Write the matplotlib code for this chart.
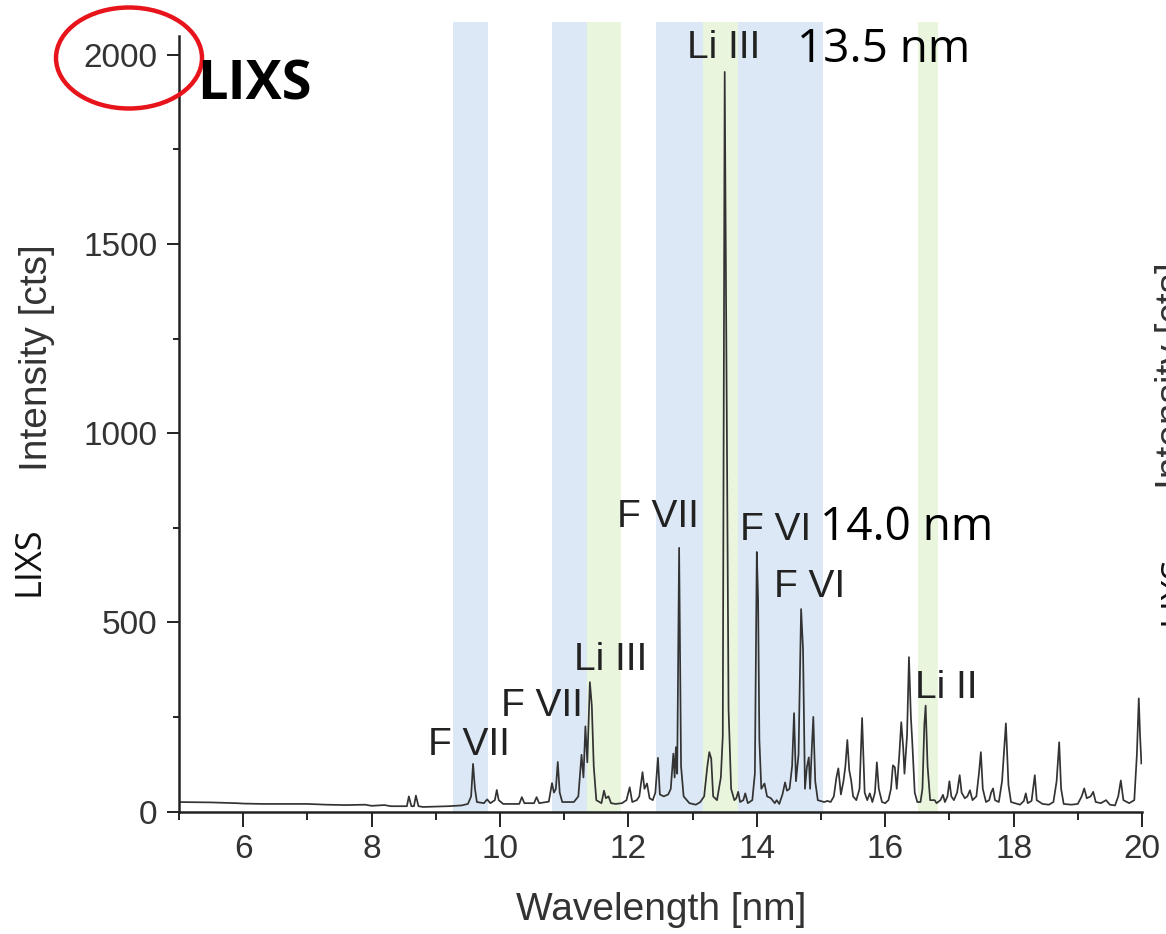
import matplotlib
matplotlib.use("Agg")
import matplotlib.pyplot as plt
from matplotlib.patches import Ellipse
from matplotlib.ticker import MultipleLocator

# ---------------- data ----------------
wavelength = [5.00, 5.50, 5.90, 6.00, 6.30, 7.00, 7.30, 7.60, 7.90, 8.00, 8.20, 8.30, 8.55,
              8.58, 8.62, 8.66, 8.69, 8.73, 8.80, 9.00, 9.20, 9.40, 9.50, 9.55, 9.58, 9.61, 9.64,
              9.75, 9.80, 9.85, 9.92, 9.95, 9.98, 10.05, 10.30, 10.34, 10.38, 10.53, 10.57, 10.61,
              10.76, 10.81, 10.84, 10.87, 10.90, 10.93, 10.97, 11.15, 11.22, 11.27, 11.30, 11.33,
              11.36, 11.40, 11.43, 11.46, 11.50, 11.58, 11.62, 11.65, 11.69, 11.73, 11.80, 11.90,
              11.97, 12.02, 12.06, 12.13, 12.17, 12.22, 12.25, 12.29, 12.33, 12.38, 12.42, 12.46,
              12.49, 12.55, 12.62, 12.66, 12.70, 12.72, 12.74, 12.76, 12.79, 12.82, 12.86, 12.95,
              13.05, 13.12, 13.18, 13.23, 13.26, 13.29, 13.32, 13.38, 13.44, 13.47, 13.50, 13.53,
              13.56, 13.60, 13.65, 13.68, 13.71, 13.74, 13.79, 13.82, 13.86, 13.93, 13.97, 14.00,
              14.02, 14.04, 14.07, 14.12, 14.16, 14.22, 14.28, 14.31, 14.35, 14.40, 14.44, 14.47,
              14.51, 14.55, 14.58, 14.61, 14.65, 14.69, 14.72, 14.75, 14.78, 14.81, 14.83, 14.85,
              14.88, 14.91, 14.95, 15.05, 15.10, 15.15, 15.20, 15.24, 15.27, 15.31, 15.35, 15.38,
              15.41, 15.44, 15.47, 15.50, 15.55, 15.60, 15.64, 15.68, 15.72, 15.76, 15.80, 15.84,
              15.87, 15.90, 15.95, 16.00, 16.05, 16.09, 16.12, 16.15, 16.18, 16.22, 16.25, 16.28,
              16.30, 16.34, 16.37, 16.40, 16.42, 16.46, 16.50, 16.55, 16.58, 16.61, 16.63, 16.66,
              16.70, 16.77, 16.80, 16.86, 16.90, 16.93, 16.97, 17.00, 17.03, 17.07, 17.12, 17.16,
              17.19, 17.24, 17.28, 17.32, 17.36, 17.42, 17.46, 17.49, 17.52, 17.57, 17.62, 17.65,
              17.68, 17.71, 17.77, 17.82, 17.88, 17.92, 17.96, 18.10, 18.16, 18.19, 18.22, 18.28,
              18.33, 18.36, 18.45, 18.55, 18.62, 18.67, 18.71, 18.74, 18.78, 18.90, 19.00, 19.06,
              19.10, 19.14, 19.20, 19.24, 19.28, 19.36, 19.44, 19.50, 19.58, 19.63, 19.67, 19.71,
              19.80, 19.88, 19.92, 19.95, 19.97, 19.99]
intensity = [25, 24, 22, 21, 20, 20, 18, 17, 18, 15, 17, 14, 14,
             40, 14, 14, 42, 14, 12, 13, 14, 16, 20, 40, 126, 60, 25,
             22, 32, 22, 30, 57, 30, 20, 20, 38, 22, 22, 38, 22,
             26, 75, 50, 60, 131, 50, 25, 25, 40, 150, 90, 225,
             130, 342, 280, 120, 30, 22, 55, 35, 40, 22, 20, 22,
             30, 64, 25, 30, 40, 104, 60, 74, 35, 30, 50, 142,
             45, 40, 45, 60, 153, 90, 170, 100, 697, 120, 40, 22,
             18, 25, 40, 120, 157, 140, 40, 30, 90, 200, 1955, 1110,
             270, 60, 30, 35, 52, 25, 30, 48, 22, 30, 100, 686,
             560, 190, 60, 74, 40, 35, 22, 30, 20, 45, 77, 55,
             60, 120, 260, 80, 150, 535, 430, 60, 117, 143, 60, 140,
             250, 80, 30, 25, 28, 25, 40, 90, 114, 45, 80, 120,
             189, 109, 82, 40, 30, 60, 247, 50, 30, 48, 25, 50,
             130, 60, 25, 22, 30, 60, 122, 117, 60, 150, 236, 170,
             100, 200, 408, 250, 189, 50, 25, 25, 60, 230, 280, 120,
             30, 30, 22, 30, 44, 25, 40, 80, 40, 30, 50, 96,
             50, 35, 40, 56, 30, 40, 100, 157, 60, 25, 30, 50,
             61, 30, 25, 80, 233, 70, 25, 18, 28, 48, 22, 28,
             96, 30, 20, 18, 25, 80, 183, 60, 20, 18, 20, 40,
             61, 35, 40, 52, 25, 22, 30, 18, 16, 40, 82, 30,
             22, 30, 150, 299, 200, 127]

blue_bands = [(9.27, 9.81), (10.81, 11.36), (12.43, 15.03)]
green_bands = [(11.36, 11.88), (13.16, 13.71), (16.51, 16.82)]

line_labels = ["F VII", "F VII", "Li III", "F VII", "Li III", "F VI", "F VI", "Li II"]
x_ticks = [6, 8, 10, 12, 14, 16, 18, 20]
y_ticks = [0, 500, 1000, 1500, 2000]

# ---------------- figure ----------------
W, H = 1166, 934
fig = plt.figure(figsize=(W / 100, H / 100), dpi=100)

def fx(px):
    return px / W

def fy(py):
    return 1 - py / H

ax = fig.add_axes([fx(179), fy(811.5), fx(1142) - fx(179), fy(22) - fy(811.5)])

for a, b in blue_bands:
    ax.axvspan(a, b, color="#dce8f5", lw=0, zorder=0)
for a, b in green_bands:
    ax.axvspan(a, b, color="#e9f5dd", lw=0, zorder=0.5)

ax.plot(wavelength, intensity, color="#333333", lw=1.25, zorder=2)

ax.set_xlim(5, 20)
ax.set_ylim(0, 2087)
ax.set_xticks(x_ticks)
ax.set_yticks(y_ticks)
ax.xaxis.set_minor_locator(MultipleLocator(1))
ax.yaxis.set_minor_locator(MultipleLocator(250))

for s in ["top", "right"]:
    ax.spines[s].set_visible(False)
for s in ["left", "bottom"]:
    ax.spines[s].set_linewidth(1.8)
    ax.spines[s].set_color("#222222")
ax.spines["left"].set_bounds(0, 2050)

ax.tick_params(axis="x", which="major", direction="out", length=10.5, width=1.4,
               color="#222222", pad=6, labelsize=24, labelcolor="#333333")
ax.tick_params(axis="x", which="minor", direction="out", length=5.5, width=1.4, color="#222222")
ax.tick_params(axis="y", which="major", direction="out", length=8.5, width=1.4,
               color="#222222", pad=7, labelsize=24, labelcolor="#333333")
ax.tick_params(axis="y", which="minor", direction="out", length=4.5, width=1.4, color="#222222")
for lab in ax.get_xticklabels() + ax.get_yticklabels():
    lab.set_fontfamily("Liberation Sans")

# axis labels
fig.text(fx(661), fy(910), "Wavelength [nm]", ha="center", va="center",
         family="Liberation Sans", size=28, color="#333333")
fig.text(fx(37), fy(358), "Intensity [cts]", ha="center", va="center", rotation=90,
         family="Liberation Sans", size=28, color="#333333")
fig.text(fx(30), fy(561), "LIXS", ha="center", va="center", rotation=90,
         family="Open Sans", size=26, color="#111111")

# labels of the neighbouring panel, cut by the right edge as in the reference
fig.text(fx(1155), fy(376), "Intensity [cts]", ha="left", va="center", rotation=90,
         family="Liberation Sans", size=28, color="#333333")
fig.text(fx(1158), fy(590), "LIXS", ha="left", va="center", rotation=90,
         family="Open Sans", size=26, color="#111111")

# emission line labels (pixel anchor: center x, baseline y)
label_pos = [(469, 755), (542, 716), (611, 670), (658, 527), (724, 58),
             (776, 540), (810, 597), (946, 698)]
for txt, (px, py) in zip(line_labels, label_pos):
    fig.text(fx(px), fy(py), txt, ha="center", va="baseline",
             family="Liberation Sans", size=28, color="#222222")

fig.text(fx(797), fy(62), "13.5 nm", ha="left", va="baseline",
         family="Open Sans", size=33, color="black")
fig.text(fx(820), fy(540), "14.0 nm", ha="left", va="baseline",
         family="Open Sans", size=33, color="black")
fig.text(fx(197), fy(100), "LIXS", ha="left", va="baseline",
         family="Open Sans", weight="bold", size=39, color="black")

ell = Ellipse((fx(129), fy(58)), fx(146), 101 / H, transform=fig.transFigure,
              fill=False, edgecolor="#e8141c", lw=3.2)
fig.add_artist(ell)

fig.savefig("out.png", dpi=100)
